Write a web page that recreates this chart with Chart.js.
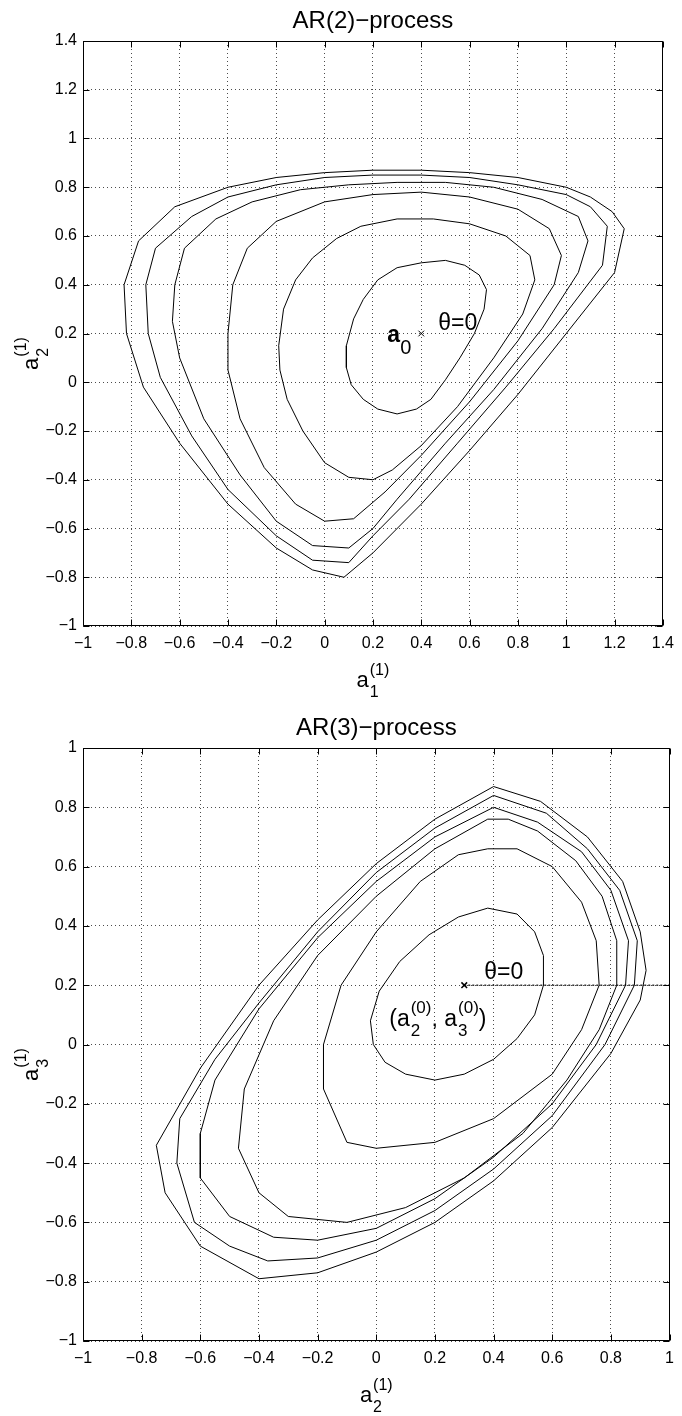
<!DOCTYPE html>
<html><head><meta charset="utf-8">
<script src="https://cdn.jsdelivr.net/npm/chart.js@4/dist/chart.umd.min.js"></script>
<style>
html,body{margin:0;padding:0;background:#fff;}
#wrap{position:relative;width:682px;height:1416px;overflow:hidden;}
canvas{position:absolute;left:0;}
</style></head><body>
<div id="wrap">
<canvas id="c1" width="682" height="708" style="top:0"></canvas>
<canvas id="c2" width="682" height="708" style="top:708px"></canvas>
</div>
<script>
// ---------- data ----------
const titleTop = "AR(2)\u2212process";
const titleBottom = "AR(3)\u2212process";
const xTicksTop = [-1,-0.8,-0.6,-0.4,-0.2,0,0.2,0.4,0.6,0.8,1,1.2,1.4];
const yTicksTop = [-1,-0.8,-0.6,-0.4,-0.2,0,0.2,0.4,0.6,0.8,1,1.2,1.4];
const xTicksBottom = [-1,-0.8,-0.6,-0.4,-0.2,0,0.2,0.4,0.6,0.8,1];
const yTicksBottom = [-1,-0.8,-0.6,-0.4,-0.2,0,0.2,0.4,0.6,0.8,1];

// AR(2) contours (a1, a2), inner to outer
const ar2A = [[0.40,0.49],[0.30,0.47],[0.22,0.42],[0.16,0.34],[0.12,0.26],[0.09,0.15],[0.09,0.06],[0.11,-0.01],[0.16,-0.07],[0.22,-0.11],[0.30,-0.13],[0.38,-0.11],[0.44,-0.07],[0.50,0.01],[0.56,0.10],[0.62,0.20],[0.66,0.30],[0.67,0.38],[0.64,0.44],[0.58,0.48],[0.50,0.50],[0.40,0.49]];
const ar2B = [[-0.12,0.42],[-0.05,0.51],[0.05,0.59],[0.15,0.64],[0.30,0.67],[0.45,0.67],[0.60,0.65],[0.75,0.60],[0.85,0.52],[0.87,0.42],[0.82,0.28],[0.70,0.10],[0.55,-0.10],[0.40,-0.26],[0.28,-0.36],[0.20,-0.40],[0.10,-0.39],[0.00,-0.33],[-0.09,-0.20],[-0.155,-0.07],[-0.185,0.05],[-0.19,0.15],[-0.17,0.30],[-0.12,0.42]];
const ar2C = [[-0.38,0.40],[-0.32,0.55],[-0.20,0.66],[0.00,0.74],[0.20,0.77],[0.40,0.78],[0.60,0.76],[0.80,0.71],[0.93,0.63],[0.98,0.52],[0.95,0.40],[0.80,0.17],[0.60,-0.08],[0.40,-0.30],[0.25,-0.45],[0.12,-0.56],[0.00,-0.57],[-0.12,-0.50],[-0.25,-0.35],[-0.35,-0.15],[-0.40,0.05],[-0.40,0.20],[-0.38,0.40]];
const ar2D = [[-0.62,0.40],[-0.58,0.55],[-0.45,0.67],[-0.30,0.74],[-0.10,0.79],[0.10,0.81],[0.30,0.82],[0.50,0.82],[0.70,0.80],[0.90,0.75],[1.05,0.68],[1.09,0.58],[1.05,0.45],[0.90,0.22],[0.70,-0.03],[0.50,-0.25],[0.30,-0.48],[0.20,-0.60],[0.10,-0.68],[-0.05,-0.67],[-0.20,-0.57],[-0.35,-0.38],[-0.50,-0.15],[-0.60,0.10],[-0.63,0.25],[-0.62,0.40]];
const ar2E = [[-0.74,0.40],[-0.70,0.55],[-0.55,0.68],[-0.40,0.76],[-0.20,0.81],[0.00,0.84],[0.20,0.85],[0.40,0.85],[0.60,0.84],[0.80,0.81],[1.00,0.77],[1.10,0.72],[1.17,0.64],[1.15,0.48],[0.95,0.22],[0.75,-0.02],[0.55,-0.25],[0.35,-0.48],[0.20,-0.63],[0.10,-0.74],[-0.05,-0.73],[-0.20,-0.63],[-0.40,-0.44],[-0.55,-0.22],[-0.68,0.02],[-0.73,0.20],[-0.74,0.40]];
const ar2F = [[-0.83,0.40],[-0.77,0.58],[-0.62,0.72],[-0.40,0.80],[-0.20,0.84],[0.00,0.86],[0.20,0.87],[0.40,0.87],[0.60,0.86],[0.80,0.84],[1.00,0.80],[1.10,0.76],[1.19,0.70],[1.24,0.63],[1.20,0.45],[1.00,0.20],[0.80,-0.05],[0.60,-0.28],[0.40,-0.50],[0.20,-0.70],[0.08,-0.80],[-0.05,-0.77],[-0.20,-0.68],[-0.40,-0.50],[-0.60,-0.25],[-0.75,-0.02],[-0.82,0.20],[-0.83,0.40]];
const ar2Centre = [0.4, 0.2];

// AR(3) contours (a2, a3), inner to outer
const ar3A = [[0.38,0.46],[0.28,0.43],[0.18,0.37],[0.08,0.28],[0.01,0.18],[-0.02,0.08],[-0.01,0.00],[0.03,-0.06],[0.10,-0.10],[0.20,-0.12],[0.30,-0.10],[0.40,-0.05],[0.48,0.02],[0.54,0.10],[0.57,0.20],[0.57,0.30],[0.54,0.38],[0.48,0.44],[0.38,0.46]];
const ar3B = [[0.38,0.66],[0.28,0.64],[0.15,0.55],[0.00,0.38],[-0.12,0.20],[-0.18,0.00],[-0.18,-0.15],[-0.10,-0.33],[0.00,-0.35],[0.20,-0.33],[0.40,-0.25],[0.60,-0.10],[0.70,0.05],[0.76,0.20],[0.75,0.35],[0.70,0.48],[0.60,0.60],[0.48,0.66],[0.38,0.66]];
const ar3C = [[0.38,0.76],[0.20,0.66],[0.00,0.50],[-0.20,0.30],[-0.35,0.08],[-0.45,-0.15],[-0.47,-0.35],[-0.40,-0.50],[-0.30,-0.58],[-0.10,-0.60],[0.10,-0.55],[0.30,-0.45],[0.50,-0.30],[0.65,-0.12],[0.76,0.05],[0.82,0.20],[0.82,0.35],[0.77,0.50],[0.68,0.62],[0.55,0.72],[0.45,0.76],[0.38,0.76]];
const ar3D = [[0.40,0.80],[0.20,0.70],[0.00,0.55],[-0.20,0.36],[-0.40,0.12],[-0.55,-0.12],[-0.60,-0.30],[-0.60,-0.45],[-0.50,-0.58],[-0.35,-0.65],[-0.20,-0.66],[0.00,-0.62],[0.20,-0.52],[0.40,-0.38],[0.60,-0.20],[0.75,0.00],[0.85,0.20],[0.86,0.35],[0.80,0.52],[0.70,0.65],[0.55,0.75],[0.40,0.80]];
const ar3E = [[0.40,0.84],[0.20,0.73],[0.00,0.58],[-0.20,0.38],[-0.40,0.14],[-0.55,-0.05],[-0.67,-0.25],[-0.68,-0.40],[-0.62,-0.60],[-0.50,-0.68],[-0.37,-0.73],[-0.20,-0.72],[0.00,-0.66],[0.20,-0.56],[0.40,-0.42],[0.60,-0.24],[0.78,0.00],[0.88,0.20],[0.89,0.35],[0.83,0.52],[0.72,0.66],[0.58,0.78],[0.40,0.84]];
const ar3F = [[0.40,0.87],[0.20,0.76],[0.00,0.61],[-0.20,0.42],[-0.40,0.20],[-0.60,-0.08],[-0.75,-0.34],[-0.72,-0.50],[-0.60,-0.68],[-0.40,-0.79],[-0.20,-0.77],[0.00,-0.70],[0.20,-0.60],[0.40,-0.46],[0.60,-0.28],[0.80,-0.03],[0.90,0.15],[0.92,0.25],[0.90,0.38],[0.84,0.55],[0.72,0.70],[0.56,0.82],[0.40,0.87]];
const ar3Centre = [0.3, 0.2];
const ar3ThetaLine = [[0.3,0.2],[1.0,0.2]];

// ---------- helpers ----------
const FONT = "'Liberation Sans', Arial, Helvetica, sans-serif";
const toPts = a => a.map(p => ({x:p[0], y:p[1]}));
const fmt = v => { const r = Math.round(v*10)/10; return (r<0?'\u2212':'') + String(Math.abs(r)); };

function contourDS(arr){
  return {data: toPts(arr), showLine:true, borderColor:'#000', borderWidth:1, pointRadius:0, fill:false, tension:0};
}

function drawSubSup(ctx, x, y, main, sub, sup){
  ctx.font = "22px " + FONT;
  ctx.textAlign='left'; ctx.textBaseline='alphabetic';
  ctx.fillText(main, x, y);
  const w = ctx.measureText(main).width;
  ctx.font = "16px " + FONT;
  if (sub) ctx.fillText(sub, x + w + 1, y + 10);
  if (sup) ctx.fillText(sup, x + w + 1, y - 12);
}
function labelWidth(ctx, main, sub, sup){
  ctx.font = "22px " + FONT;
  const w = ctx.measureText(main).width;
  ctx.font = "16px " + FONT;
  return w + 1 + Math.max(ctx.measureText(sub).width, ctx.measureText(sup).width);
}

function makeDecor(cfg){
  return {
    id:'decor',
    afterDraw(chart){
      const ctx = chart.ctx, a = chart.chartArea;
      const xs = chart.scales.x, ys = chart.scales.y;
      ctx.save();
      ctx.fillStyle='#000'; ctx.strokeStyle='#000'; ctx.lineWidth=1;
      const L=Math.round(a.left)+0.5, R=Math.round(a.right)-0.5, T=Math.round(a.top)+0.5, B=Math.round(a.bottom)-0.5;
      ctx.beginPath(); ctx.rect(L,T,R-L,B-T); ctx.stroke();
      ctx.beginPath();
      cfg.xTicks.forEach(v=>{ const px=Math.round(xs.getPixelForValue(v))+0.5; ctx.moveTo(px,B); ctx.lineTo(px,B-6); ctx.moveTo(px,T); ctx.lineTo(px,T+6); });
      cfg.yTicks.forEach(v=>{ const py=Math.round(ys.getPixelForValue(v))+0.5; ctx.moveTo(L,py); ctx.lineTo(L+6,py); ctx.moveTo(R,py); ctx.lineTo(R-6,py); });
      ctx.stroke();
      ctx.font = "24px " + FONT; ctx.textAlign='center'; ctx.textBaseline='alphabetic';
      ctx.fillText(cfg.title, (a.left+a.right)/2, a.top-13);
      const cx = (a.left+a.right)/2;
      const wx = labelWidth(ctx, 'a', cfg.xSub, '(1)');
      drawSubSup(ctx, cx - wx/2, a.bottom + 61, 'a', cfg.xSub, '(1)');
      const cy = (a.top+a.bottom)/2 + cfg.yShift;
      const wy = labelWidth(ctx, 'a', cfg.ySub, '(1)');
      ctx.save(); ctx.translate(38, cy); ctx.rotate(-Math.PI/2);
      drawSubSup(ctx, -wy/2, 0, 'a', cfg.ySub, '(1)');
      ctx.restore();
      cfg.annot(ctx, xs, ys);
      ctx.restore();
    }
  };
}

function baseOptions(xmin,xmax,ymin,ymax,xTicks,yTicks,padR,padB){
  const tickFont = {family:FONT, size:16};
  const common = (ticksArr)=>({
    type:'linear',
    afterBuildTicks: s => { s.ticks = ticksArr.map(v=>({value:v})); },
    ticks:{font:tickFont, color:'#000', callback:fmt, autoSkip:false, maxRotation:0},
    grid:{color:'rgba(0,0,0,0.7)', lineWidth:1, drawTicks:false},
    border:{display:false, dash:[1,3]}
  });
  const x = Object.assign(common(xTicks), {min:xmin, max:xmax, position:'bottom', afterFit: s=>{ s.height = 40; }});
  x.ticks.padding = 8;
  const y = Object.assign(common(yTicks), {min:ymin, max:ymax, position:'left', afterFit: s=>{ s.width = 83; }});
  y.ticks.padding = 6;
  return {
    responsive:false, animation:false, devicePixelRatio:1, events:[],
    layout:{padding:{left:0, top:41, right:padR, bottom:padB}},
    plugins:{legend:{display:false}, tooltip:{enabled:false}, title:{display:false}},
    scales:{x, y}
  };
}

// ---------- top chart ----------
const opt1 = baseOptions(-1,1.4,-1,1.4,xTicksTop,yTicksTop,11,42);
opt1.layout.padding.top = 41;
new Chart(document.getElementById('c1'), {
  type:'scatter',
  data:{datasets:[
    contourDS(ar2A),contourDS(ar2B),contourDS(ar2C),contourDS(ar2D),contourDS(ar2E),contourDS(ar2F),
    {data:[{x:ar2Centre[0],y:ar2Centre[1]}], pointStyle:'crossRot', pointRadius:4, borderColor:'#000', borderWidth:1, showLine:false}
  ]},
  options:opt1,
  plugins:[makeDecor({title:titleTop, xSub:'1', ySub:'2', yShift:20, xTicks:xTicksTop, yTicks:yTicksTop,
    annot(ctx,xs,ys){
      const px = xs.getPixelForValue(ar2Centre[0]), py = ys.getPixelForValue(ar2Centre[1]);
      ctx.textAlign='left'; ctx.textBaseline='alphabetic';
      ctx.font = "bold 23px " + FONT; ctx.fillText('a', px-34, py+8);
      ctx.font = "20px " + FONT; ctx.fillText('0', px-21, py+20);
      ctx.font = "23px " + FONT; ctx.fillText('\u03B8=0', px+17, py-4);
    }})]
});

// ---------- bottom chart ----------
const opt2 = baseOptions(-1,1,-1,1,xTicksBottom,yTicksBottom,5,35);
opt2.layout.padding.top = 40;
new Chart(document.getElementById('c2'), {
  type:'scatter',
  data:{datasets:[
    contourDS(ar3A),contourDS(ar3B),contourDS(ar3C),contourDS(ar3D),contourDS(ar3E),contourDS(ar3F),
    {data:toPts(ar3ThetaLine), showLine:true, borderColor:'#000', borderWidth:1.2, borderDash:[2,2], pointRadius:0},
    {data:[{x:ar3Centre[0],y:ar3Centre[1]}], pointStyle:'crossRot', pointRadius:4, borderColor:'#000', borderWidth:1.5, showLine:false}
  ]},
  options:opt2,
  plugins:[makeDecor({title:titleBottom, xSub:'2', ySub:'3', yShift:20, xTicks:xTicksBottom, yTicks:yTicksBottom,
    annot(ctx,xs,ys){
      const px = xs.getPixelForValue(ar3Centre[0]), py = ys.getPixelForValue(ar3Centre[1]);
      ctx.textAlign='left'; ctx.textBaseline='alphabetic';
      ctx.font = "23px " + FONT; ctx.fillText('\u03B8=0', px+20, py-6);
      let x = px-75, b = py+41;
      ctx.font = "23px " + FONT; ctx.fillText('(a', x, b); x += ctx.measureText('(a').width + 1;
      ctx.font = "17px " + FONT; ctx.fillText('2', x, b+10); ctx.fillText('(0)', x, b-13); x += ctx.measureText('(0)').width;
      ctx.font = "23px " + FONT; ctx.fillText(', a', x, b); x += ctx.measureText(', a').width + 1;
      ctx.font = "17px " + FONT; ctx.fillText('3', x, b+10); ctx.fillText('(0)', x, b-13); x += ctx.measureText('(0)').width;
      ctx.font = "23px " + FONT; ctx.fillText(')', x, b);
    }})]
});
</script>
</body></html>
